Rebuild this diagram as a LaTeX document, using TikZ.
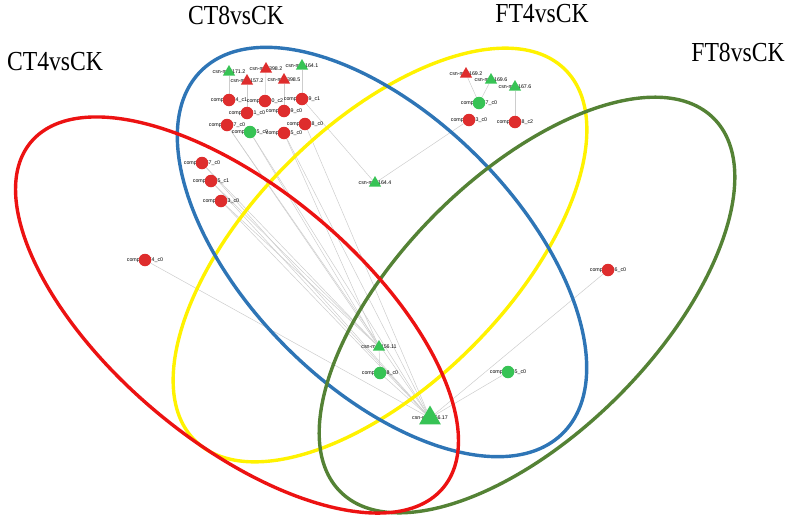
\documentclass[tikz,border=0pt]{standalone}
\usepackage{fontspec}
\setmainfont{Liberation Serif}
\newfontfamily\titlefont[FakeStretch=0.86]{Liberation Serif}
\newfontfamily\labfont{Liberation Sans}
\usetikzlibrary{shapes.geometric, backgrounds}
\definecolor{setred}{RGB}{236, 18, 18}
\definecolor{setblue}{RGB}{46, 117, 182}
\definecolor{setyellow}{RGB}{255, 242, 0}
\definecolor{setgreen}{RGB}{84, 130, 53}
\definecolor{nodered}{RGB}{222, 45, 45}
\definecolor{nodegreen}{RGB}{55, 195, 85}
\definecolor{edgegray}{RGB}{205, 205, 205}

\begin{document}
\begin{tikzpicture}[x=1pt, y=-1pt,
        setring/.style={line width=3.4pt},
        grouptitle/.style={font=\titlefont\fontsize{27.5}{27.5}\selectfont, inner sep=0pt},
        genelab/.style={font=\labfont\fontsize{5.3}{6}\selectfont, inner sep=0pt},
        tgtred/.style={circle, fill=nodered, minimum size=12.5pt, inner sep=0pt},
        tgtgreen/.style={circle, fill=nodegreen, minimum size=12.5pt, inner sep=0pt},
        mirred/.style={regular polygon, regular polygon sides=3, fill=nodered,
            minimum size=14pt, inner sep=0pt},
        mirgreen/.style={regular polygon, regular polygon sides=3, fill=nodegreen,
            minimum size=14pt, inner sep=0pt},
        mirbig/.style={mirgreen, minimum size=25pt},
        link/.style={draw=edgegray, line width=0.5pt}
    ]
    \useasboundingbox (0,0) rectangle (791,520);

    % group titles
    \node[grouptitle] (t-ct4) at (55,62) {CT4vsCK};
    \node[grouptitle] (t-ct8) at (236,15) {CT8vsCK};
    \node[grouptitle] (t-ft4) at (542,14) {FT4vsCK};
    \node[grouptitle] (t-ft8) at (738,52) {FT8vsCK};

    % miRNAs and targets: label first, shape on top of it
    \foreach \n/\s/\x/\y/\t in {
            mir1712/mirgreen/229/72/csn-miR171.2,
            mir1572/mirred/247/81/csn-miR157.2,
            mir3982/mirred/266/69/csn-miR398.2,
            mir3985/mirred/284/80/csn-miR398.5,
            mir1641/mirgreen/302/66/csn-miR164.1,
            mir1692/mirred/466/74/csn-miR169.2,
            mir1696/mirgreen/491/80/csn-miR169.6,
            mir1676/mirgreen/515/87/csn-miR167.6,
            mir1644/mirgreen/375/183/csn-miR164.4,
            mir15611/mirgreen/379/347/csn-miR156.11,
            mir15617/mirbig/430/418/csn-miR156.17,
            c75424/tgtred/229/100/comp75424\_c1,
            c81590/tgtred/265/101/comp81590\_c2,
            c82889/tgtred/302/99/comp82889\_c1,
            c73221/tgtred/247/113/comp73221\_c0,
            c83669/tgtred/284/111/comp83669\_c0,
            c84787/tgtred/227/125/comp84787\_c0,
            c80765/tgtgreen/250/132/comp80765\_c0,
            c81915/tgtred/284/133/comp81915\_c0,
            c79688/tgtred/305/124/comp79688\_c0,
            c84047/tgtgreen/479/103/comp84047\_c0,
            c77383/tgtred/469/120/comp77383\_c0,
            c82148/tgtred/515/122/comp82148\_c2,
            c82767/tgtred/202/163/comp82767\_c0,
            c81945/tgtred/211/181/comp81945\_c1,
            c80343/tgtred/221/201/comp80343\_c0,
            c82274/tgtred/145/260/comp82274\_c0,
            c82486/tgtred/608/270/comp82486\_c0,
            c83838/tgtgreen/380/373/comp83838\_c0,
            c82465/tgtgreen/508/372/comp82465\_c0} {
        \node[genelab] (l-\n) at (\x,\y) {\t};
        \node[\s] (\n) at (\x,\y) {};
    }

    \begin{scope}[on background layer]
        % miRNA -- target links
        \foreach \a/\b in {mir1712/c75424, mir3982/c81590, mir1641/c82889,
                mir1572/c73221, mir3985/c83669, mir1692/c84047, mir1696/c84047,
                mir1676/c82148, c77383/mir1644, c82889/mir1644,
                c84787/mir15611, c80765/mir15611, c81915/mir15611, c82767/mir15611,
                c81945/mir15611, c80343/mir15611, c83838/mir15611,
                c84787/mir15617, c80765/mir15617, c81915/mir15617, c79688/mir15617,
                c82767/mir15617, c81945/mir15617, c80343/mir15617, c82274/mir15617,
                c83838/mir15617, c82465/mir15617, c82486/mir15617}
            \draw[link] (\a) -- (\b);

        % the four comparison sets
        \draw[setring, setyellow, rotate around={45:(380,255)}]
            (380,255) ellipse [x radius=262, y radius=130];
        \draw[setring, setblue, rotate around={-45:(382,252)}]
            (382,252) ellipse [x radius=256, y radius=135];
        \draw[setring, setgreen, rotate around={45:(527,305)}]
            (527,305) ellipse [x radius=264, y radius=129];
        \draw[setring, setred, rotate around={-40:(237,315)}]
            (237,315) ellipse [x radius=269, y radius=126];
    \end{scope}
\end{tikzpicture}
\end{document}
